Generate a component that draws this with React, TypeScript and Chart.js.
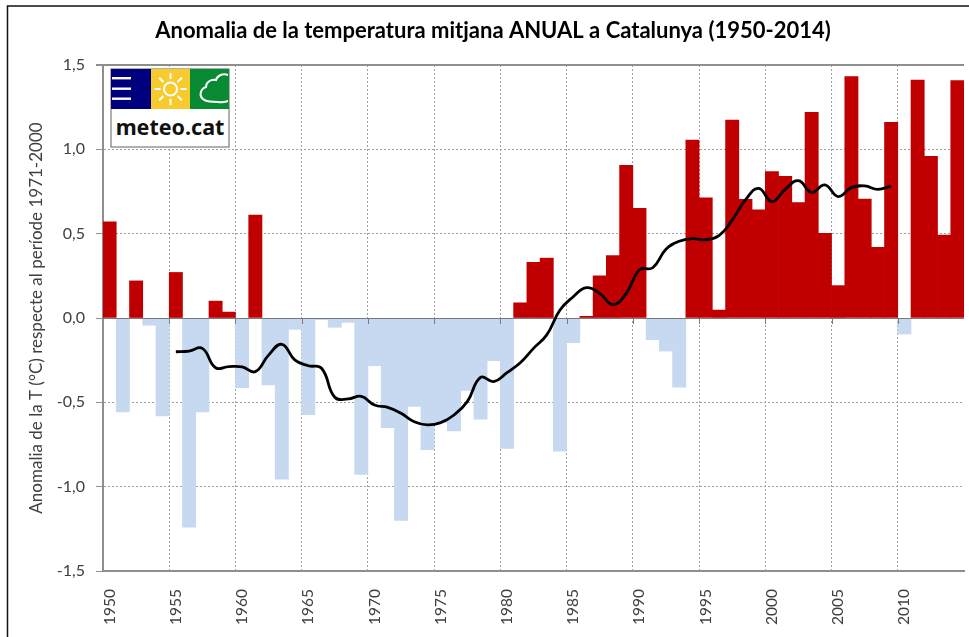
import React, { useEffect, useRef } from "react";
import { Chart, registerables } from "chart.js";

Chart.register(...registerables);

const years = [
  "1950","1951","1952","1953","1954","1955","1956","1957","1958","1959",
  "1960","1961","1962","1963","1964","1965","1966","1967","1968","1969",
  "1970","1971","1972","1973","1974","1975","1976","1977","1978","1979",
  "1980","1981","1982","1983","1984","1985","1986","1987","1988","1989",
  "1990","1991","1992","1993","1994","1995","1996","1997","1998","1999",
  "2000","2001","2002","2003","2004","2005","2006","2007","2008","2009",
  "2010","2011","2012","2013","2014",
];

const anomaly = [
  0.57,-0.557,0.22,-0.043,-0.58,0.27,-1.24,-0.557,0.10,0.035,
  -0.413,0.61,-0.397,-0.956,-0.067,-0.573,-0.01,-0.055,-0.026,-0.927,
  -0.283,-0.65,-1.20,-0.524,-0.78,-0.62,-0.67,-0.43,-0.60,-0.253,
  -0.773,0.09,0.33,0.355,-0.79,-0.146,0.01,0.25,0.37,0.905,
  0.65,-0.128,-0.196,-0.41,1.055,0.713,0.047,1.174,0.703,0.642,
  0.868,0.84,0.684,1.219,0.502,0.192,1.431,0.705,0.419,1.16,
  -0.095,1.411,0.958,0.492,1.407,
];

const smoothed = [
  null,null,null,null,null,
  -0.20,-0.196,-0.18,-0.295,-0.288,
  -0.29,-0.318,-0.22,-0.156,-0.25,-0.283,-0.298,-0.47,-0.48,-0.465,
  -0.516,-0.53,-0.565,-0.615,-0.634,-0.62,-0.575,-0.496,-0.352,-0.377,
  -0.324,-0.265,-0.18,-0.10,0.047,0.126,0.18,0.146,0.08,0.146,
  0.285,0.298,0.407,0.455,0.47,0.464,0.488,0.58,0.70,0.769,
  0.69,0.763,0.814,0.745,0.789,0.72,0.773,0.783,0.763,0.783,
  null,null,null,null,null,
];

const TITLE = "Anomalia de la temperatura mitjana ANUAL a Catalunya (1950-2014)";
const Y_TITLE = "Anomalia de la T (°C) respecte al període 1971-2000";
const RED = "#C00000";
const BLUE = "#C6D9F1";
const AXIS = "#8E8E8E";
const GRID = "#A0A0A0";
const TEXT = "#404040";
const FONT = "Lato, 'Open Sans', sans-serif";

const framePlugin = {
  id: "frame",
  beforeDraw(chart: any) {
    const { ctx } = chart;
    ctx.save();
    ctx.strokeStyle = "#111";
    ctx.lineWidth = 1.5;
    ctx.strokeRect(7.5, 6, 3000, 3000);
    ctx.restore();
  },
};

const zeroAxisPlugin = {
  id: "zeroAxis",
  afterDatasetDraw(chart: any, args: any) {
    if (args.index !== 0) return;
    const { ctx, scales, chartArea } = chart;
    const y0 = Math.round(scales.y.getPixelForValue(0));
    const step = chartArea.width / years.length;
    ctx.save();
    ctx.strokeStyle = "#7a7a7a";
    ctx.lineWidth = 1;
    ctx.beginPath();
    ctx.moveTo(chartArea.left, y0 + 0.5);
    ctx.lineTo(chartArea.right, y0 + 0.5);
    for (let i = 5; i < years.length; i += 5) {
      const x = Math.round(chartArea.left + i * step) + 0.5;
      ctx.moveTo(x, y0);
      ctx.lineTo(x, y0 + 6);
    }
    ctx.stroke();
    ctx.restore();
  },
};

function Logo() {
  const rays = [0, 45, 90, 135, 180, 225, 270, 315];
  return (
    <svg
      width={120}
      height={80}
      viewBox="0 0 120 80"
      style={{ position: "absolute", left: 110, top: 68 }}
    >
      <rect x={1} y={1} width={118} height={78} fill="#fff" stroke="#606060" strokeWidth={1} />
      <rect x={1} y={1} width={40} height={40} fill="#00007E" />
      <rect x={41} y={1} width={39} height={40} fill="#F7CB2D" />
      <rect x={80} y={1} width={39} height={40} fill="#078A32" />
      {[10, 20.5, 30.5].map((y) => (
        <rect key={y} x={2} y={y - 1} width={19} height={2.4} fill="#fff" />
      ))}
      <circle cx={60.5} cy={21} r={6.5} fill="none" stroke="#fff" strokeWidth={2} />
      {rays.map((a) => (
        <line
          key={a}
          x1={60.5 + 10 * Math.cos((a * Math.PI) / 180)}
          y1={21 + 10 * Math.sin((a * Math.PI) / 180)}
          x2={60.5 + 16 * Math.cos((a * Math.PI) / 180)}
          y2={21 + 16 * Math.sin((a * Math.PI) / 180)}
          stroke="#fff"
          strokeWidth={2}
        />
      ))}
      <path
        d="M118 7 C112 5 107 8 106 12 C101 11 96 14 96 19 C90 21 89 28 93 31 C97 35 104 33 108 34 C112 35 115 34 118 33"
        fill="none"
        stroke="#fff"
        strokeWidth={2}
      />
      <text
        x={60}
        y={67}
        textAnchor="middle"
        fontFamily="'Noto Sans', sans-serif"
        fontWeight={700}
        fontSize={21.5}
        fill="#111"
      >
        meteo.cat
      </text>
    </svg>
  );
}

export default function App() {
  const ref = useRef<HTMLCanvasElement | null>(null);

  useEffect(() => {
    if (!ref.current) return;
    document.body.style.margin = "0";
    const chart = new Chart(ref.current, {
      type: "bar",
      data: {
        labels: years,
        datasets: [
          {
            type: "bar",
            label: "Anomalia",
            data: anomaly,
            backgroundColor: anomaly.map((v) => (v >= 0 ? RED : BLUE)),
            borderWidth: 0,
            barPercentage: 1,
            categoryPercentage: 1,
            order: 2,
          },
          {
            type: "line",
            label: "Mitjana mòbil",
            data: smoothed as any,
            borderColor: "#000",
            borderWidth: 2.8,
            pointRadius: 0,
            tension: 0.45,
            fill: false,
            order: 1,
          },
        ],
      },
      options: {
        animation: false,
        responsive: false,
        layout: { padding: { top: 18, left: 22, right: 5, bottom: 0 } },
        plugins: {
          legend: { display: false },
          tooltip: { enabled: false },
          title: {
            display: true,
            text: TITLE,
            color: "#000",
            font: { family: FONT, size: 22, weight: "bold", lineHeight: 1.2 },
            padding: { top: 0, bottom: 20.6 },
          },
        },
        scales: {
          x: {
            type: "category",
            offset: true,
            afterFit(s: any) {
              s.height = 66;
              s.paddingLeft = 0;
              s.paddingRight = 0;
            },
            border: { display: true, color: AXIS, width: 2, dash: [2, 2] },
            grid: {
              offset: true,
              drawTicks: false,
              color: (c: any) =>
                c.index === years.length ? AXIS : c.index % 5 === 0 ? GRID : "rgba(0,0,0,0)",
              lineWidth: (c: any) => (c.index === years.length ? 2 : 1),
            },
            ticks: {
              autoSkip: false,
              maxRotation: 90,
              minRotation: 90,
              padding: 18,
              color: TEXT,
              font: { family: FONT, size: 15.5 },
              callback(_v: any, i: number) {
                return i % 5 === 0 ? years[i] : "";
              },
            },
          },
          y: {
            min: -1.5,
            max: 1.5,
            afterFit(s: any) {
              s.width = 81;
            },
            border: {
              display: true,
              color: AXIS,
              width: 2,
              dash: (c: any) => (c.tick && (c.tick.value === 0 || c.tick.value === 1.5) ? [] : [2, 2]),
            },
            grid: {
              tickLength: 7,
              tickColor: AXIS,
              color: (c: any) =>
                c.tick.value === 0 || c.tick.value === 1.5 ? AXIS : GRID,
              lineWidth: (c: any) => (c.tick.value === 1.5 ? 2 : 1),
            },
            ticks: {
              stepSize: 0.5,
              padding: 11,
              color: TEXT,
              font: { family: FONT, size: 16 },
              callback(v: any) {
                return Number(v).toFixed(1).replace(".", ",");
              },
            },
            title: {
              display: true,
              text: Y_TITLE,
              color: TEXT,
              font: { family: FONT, size: 17 },
              padding: { top: 4, bottom: 0 },
            },
          },
        },
      },
      plugins: [framePlugin, zeroAxisPlugin],
    } as any);
    return () => chart.destroy();
  }, []);

  return (
    <div style={{ position: "absolute", left: 0, top: 0, width: 969, height: 637, overflow: "hidden", background: "#fff" }}>
      <canvas ref={ref} width={969} height={637} style={{ display: "block" }} />
      <Logo />
    </div>
  );
}
